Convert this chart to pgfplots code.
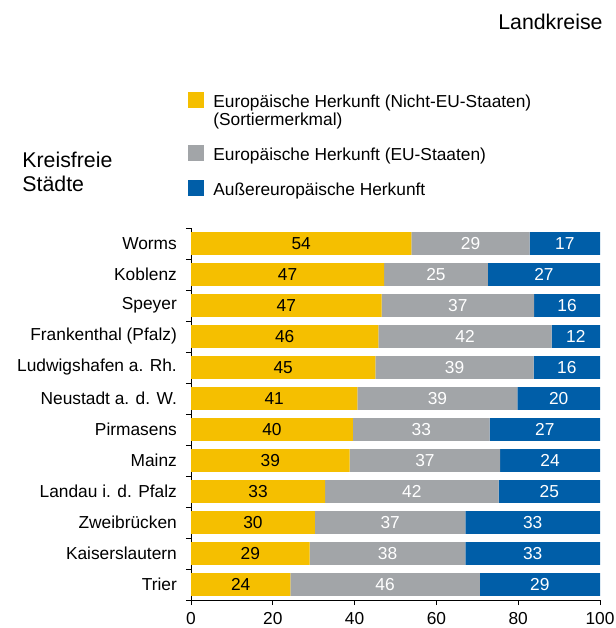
\documentclass[border=0pt]{standalone}
\usepackage{fontspec}
\setmainfont{Liberation Sans}
\usepackage{pgfplots}
\usepackage{pgfplotstable}
\pgfplotsset{compat=1.18}

\definecolor{euyellow}{HTML}{F5BF00}
\definecolor{eugray}{HTML}{A2A5A8}
\definecolor{eublue}{HTML}{005EA8}

% legend square that sits on the first line of a two-line entry
\pgfplotsset{raisedsquare/.style={legend image code/.code={\fill[##1] (0bp,1.75bp) rectangle (8bp,9.75bp);}}}

% shares in percent, row 0 = Worms (top)
\pgfplotstableread{
idx a b c
0 53.9 28.9 17.2
1 47.2 25.4 27.4
2 46.6 37.3 16.1
3 45.8 42.4 11.8
4 45.1 38.7 16.2
5 40.7 39.1 20.2
6 39.6 33.4 27.0
7 38.8 36.8 24.4
8 32.8 42.4 24.8
9 30.3 36.8 32.9
10 29.0 38.1 32.9
11 24.3 46.3 29.4
}\shares

\begin{document}
\fontsize{8.7}{9.1}\selectfont
\begin{tikzpicture}
\useasboundingbox (0,0) rectangle (308bp,314bp);
\begin{axis}[
    at={(95.5bp,14bp)}, anchor=south west,
    scale only axis,
    width=204.5bp, height=186bp,
    xbar stacked,
    bar width=0.74,
    xmin=0, xmax=100,
    ymin=-0.5, ymax=11.5,
    y dir=reverse,
    axis x line*=bottom,
    axis y line*=left,
    axis line style={black, line width=0.5pt},
    xtick={0,20,...,100},
    ytick={0,...,11},
    yticklabels={Worms,Koblenz,Speyer,Frankenthal (Pfalz),Ludwigshafen a. Rh.,
        Neustadt a. d. W.,Pirmasens,Mainz,Landau i. d. Pfalz,Zweibrücken,
        Kaiserslautern,Trier},
    minor ytick={-0.5,0.5,...,11.5},
    major y tick style={draw=none},
    minor tick length=2.5bp,
    major tick length=2.5bp,
    tick align=outside,
    tick style={black, line width=0.5pt},
    xticklabel style={yshift=-0.5bp},
    yticklabel style={xshift=-1.5bp},
    /pgf/number format/assume math mode=true,
    point meta=explicit,
    nodes near coords,
    nodes near coords style={
        /pgf/number format/fixed, /pgf/number format/precision=0,
        /pgf/number format/assume math mode=true,
        anchor=center, inner sep=0pt},
    legend style={
        at={(rel axis cs:-0.022,1.378)}, anchor=north west,
        draw=none, fill=none,
        legend cell align=left,
        row sep=8.75bp, column sep=4.5bp,
        nodes={align=left, inner sep=0pt},
    },
    legend image code/.code={\fill[#1] (0bp,-3bp) rectangle (8bp,5bp);},
]
\addplot[draw=none, fill=euyellow, raisedsquare,
    every node near coord/.append style={black}]
    table[x=a, y=idx, meta=a] {\shares};
\addlegendentry{Europäische Herkunft (Nicht-EU-Staaten)\\(Sortiermerkmal)}
\addplot[draw=none, fill=eugray,
    every node near coord/.append style={white}]
    table[x=b, y=idx, meta=b] {\shares};
\addlegendentry{Europäische Herkunft (EU-Staaten)}
\addplot[draw=none, fill=eublue,
    every node near coord/.append style={white}]
    table[x=c, y=idx, meta=c] {\shares};
\addlegendentry{Außereuropäische Herkunft}
\end{axis}
\begin{scope}[every node/.style={inner sep=0pt, font=\fontsize{10.7}{12}\selectfont}]
\node[anchor=base east] at (301.5bp,299.2bp) {Landkreise};
\node[anchor=base west] at (11bp,230.2bp) {Kreisfreie};
\node[anchor=base west] at (11bp,218.2bp) {Städte};
\end{scope}
\end{tikzpicture}
\end{document}
